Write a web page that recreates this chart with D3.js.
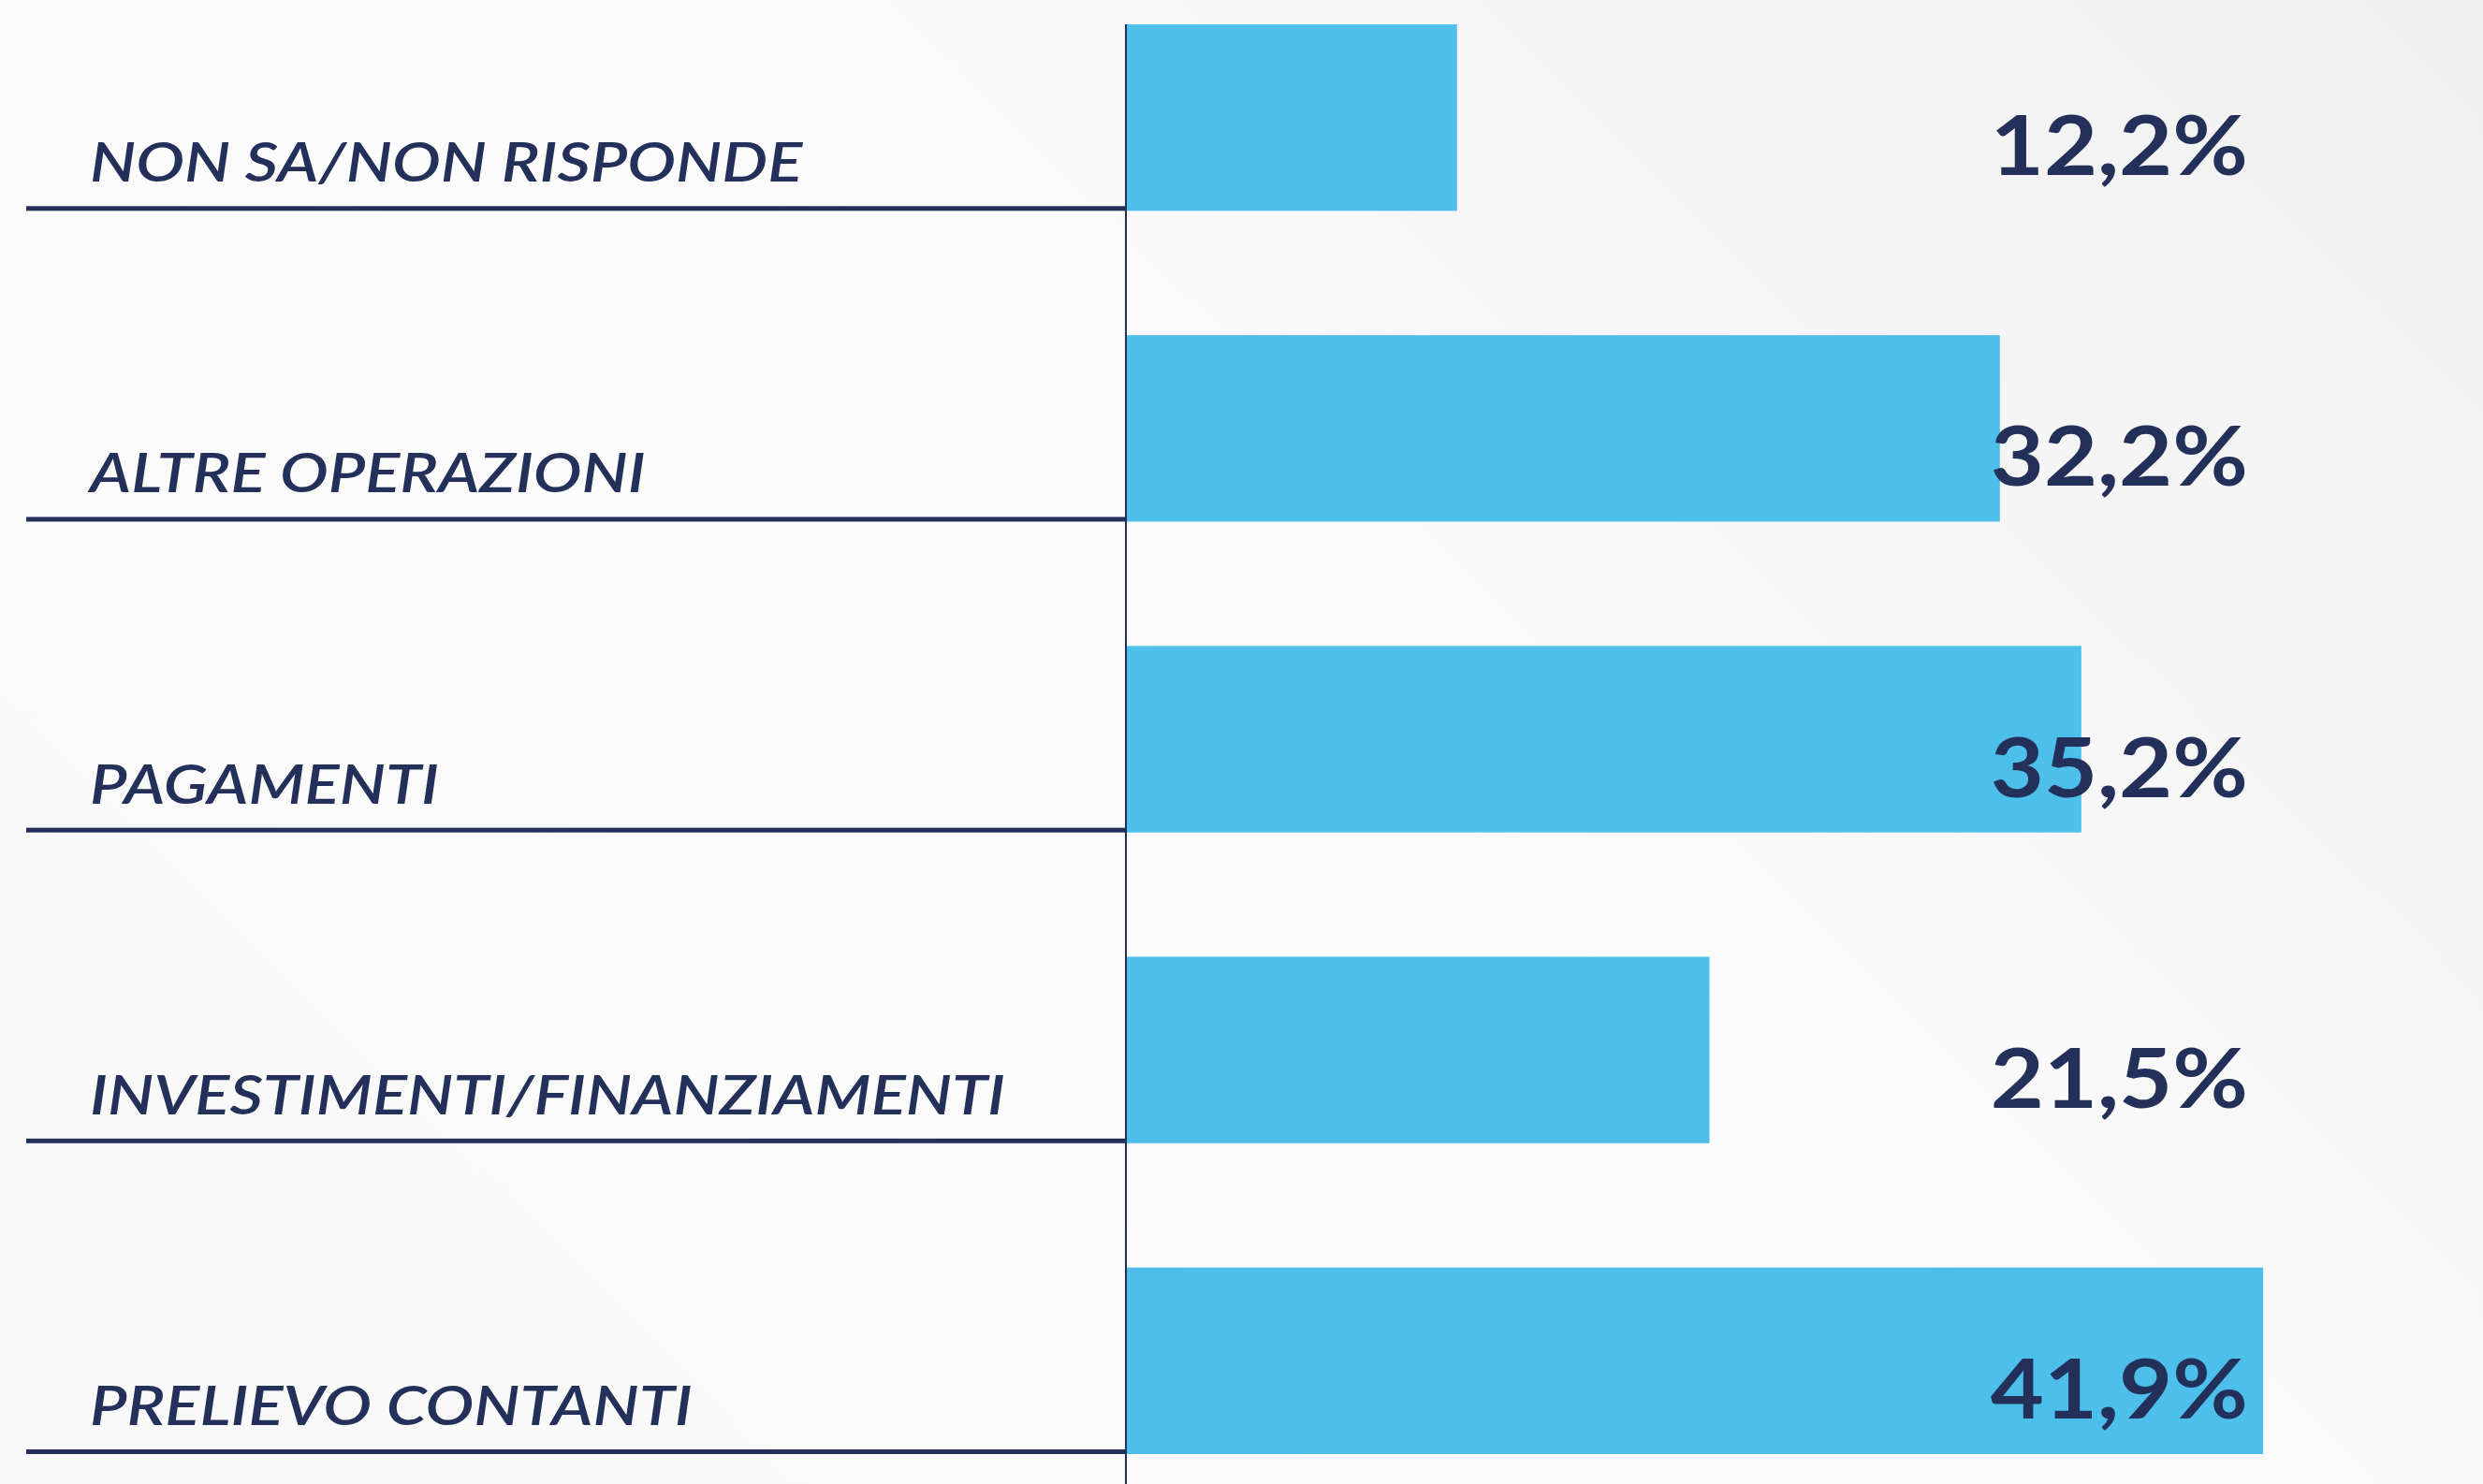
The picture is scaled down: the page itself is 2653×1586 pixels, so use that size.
<!DOCTYPE html>
<html>
<head>
<meta charset="utf-8">
<script src="https://cdn.jsdelivr.net/npm/d3@7"></script>
<style>
  html, body { margin: 0; padding: 0; overflow: hidden; background: #f7f7f7; }
  .cat { font-family: "Lato", "Open Sans", sans-serif; font-style: italic; font-weight: 600; fill: #22305a; }
  .val { font-family: "Lato", "Open Sans", sans-serif; font-weight: 700; fill: #22305a; }
</style>
</head>
<body>
<div id="chart"></div>
<script>
var categories = ["NON SA/NON RISPONDE", "ALTRE OPERAZIONI", "PAGAMENTI", "INVESTIMENTI/FINANZIAMENTI", "PRELIEVO CONTANTI"];
var values = [12.2, 32.2, 35.2, 21.5, 41.9];

var width = 2653,
  height = 1586;

var svg = d3.select("#chart")
  .append("svg")
  .attr("width", width)
  .attr("height", height)

// soft grey background
var defs = svg.append("defs")
var grad = defs.append("linearGradient")
  .attr("id", "bg")
  .attr("x1", "0").attr("y1", "0.6")
  .attr("x2", "1").attr("y2", "0")
grad.append("stop").attr("offset", "0").attr("stop-color", "#f9f9f9")
grad.append("stop").attr("offset", "0.4").attr("stop-color", "#fcfcfc")
grad.append("stop").attr("offset", "1").attr("stop-color", "#f0f0f0")

svg.append("rect")
  .attr("width", width)
  .attr("height", height)
  .attr("fill", "url(#bg)")

var axisX = 1203;

var y = d3.scaleBand()
  .domain(categories)
  .range([26, 1554])
  .paddingInner(0.4)
  .paddingOuter(0)

var x = d3.scaleLinear()
  .domain([0, 50])
  .range([axisX, width])

var fmt = function(v) { return d3.format(".1f")(v).replace(".", ",") + "%" }

var rows = svg.selectAll(".row")
  .data(categories)
  .enter().append("g")
  .attr("class", "row")

rows.append("rect")
  .attr("x", axisX)
  .attr("y", function(d) { return y(d) })
  .attr("width", function(d, i) { return x(values[i]) - axisX })
  .attr("height", y.bandwidth())
  .attr("fill", "#4dbfea")

// underline below each category
rows.append("rect")
  .attr("x", 28)
  .attr("y", function(d) { return y(d) + y.bandwidth() - 5 })
  .attr("width", axisX - 28)
  .attr("height", 5)
  .attr("fill", "#22305a")

// the original type is wide, so stretch horizontally
rows.append("text")
  .attr("class", "cat")
  .attr("transform", function(d) {
    return "translate(96," + (y(d) + y.bandwidth() - 31) + ") scale(1.19,1)"
  })
  .attr("font-size", 58)
  .text(function(d) { return d })

rows.append("text")
  .attr("class", "val")
  .attr("transform", function(d) {
    return "translate(2402," + (y(d) + y.bandwidth() - 38) + ") scale(1.12,1)"
  })
  .attr("text-anchor", "end")
  .attr("font-size", 88)
  .text(function(d, i) { return fmt(values[i]) })

// vertical baseline
svg.append("line")
  .attr("x1", axisX).attr("x2", axisX)
  .attr("y1", 26).attr("y2", height)
  .attr("stroke", "#22305a")
  .attr("stroke-width", 2)
</script>
</body>
</html>
